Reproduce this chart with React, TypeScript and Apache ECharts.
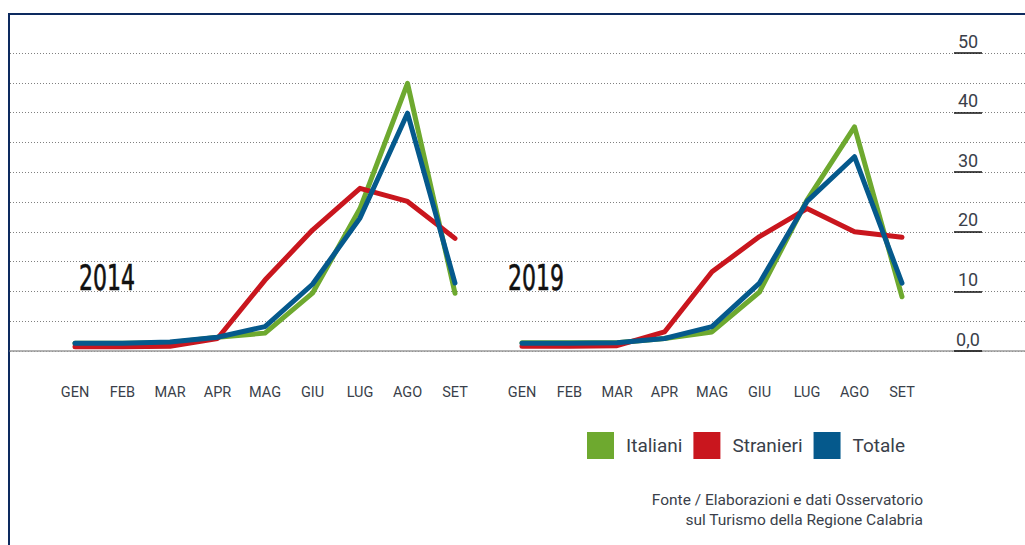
import React, { useEffect, useRef } from "react";
import * as echarts from "echarts";

const months = ["GEN", "FEB", "MAR", "APR", "MAG", "GIU", "LUG", "AGO", "SET"];
const yearLabels = ["2014", "2019"];
const seriesNames = ["Italiani", "Stranieri", "Totale"];
const seriesColors = ["#6ea92f", "#c9161e", "#05598c"];

const italiani2014 = [1.3, 1.3, 1.4, 2.3, 3.0, 9.7, 23.9, 44.9, 9.7];
const stranieri2014 = [0.7, 0.7, 0.8, 2.1, 11.9, 20.3, 27.3, 25.1, 18.9];
const totale2014 = [1.3, 1.3, 1.5, 2.3, 4.1, 11.2, 22.3, 39.9, 11.4];

const italiani2019 = [1.4, 1.4, 1.4, 2.1, 3.2, 9.9, 25.3, 37.6, 9.1];
const stranieri2019 = [0.8, 0.8, 0.9, 3.2, 13.3, 19.2, 23.9, 20.0, 19.1];
const totale2019 = [1.3, 1.3, 1.4, 2.1, 4.1, 11.4, 25.1, 32.6, 11.4];

const sourceLines = [
  "Fonte / Elaborazioni e dati Osservatorio",
  "sul Turismo della Regione Calabria",
];

const FONT = "Roboto, 'DejaVu Sans', sans-serif";

export default function App() {
  const ref = useRef<HTMLDivElement>(null);
  useEffect(() => {
    if (!ref.current) return;
    const chart = echarts.init(ref.current, null, { renderer: "svg" });
    const top = 53;
    const height = 298;
    const mkSeries = (idx: number, arrs: number[][]) =>
      arrs.map((d, i) => ({
        type: "line",
        name: seriesNames[i],
        xAxisIndex: idx,
        yAxisIndex: idx,
        data: d,
        symbol: "none",
        smooth: false,
        lineStyle: { width: 5, color: seriesColors[i], cap: "round", join: "round" },
        itemStyle: { color: seriesColors[i] },
        z: 5 + i,
      }));
    const catAxis = (gi: number) => ({
      type: "category",
      gridIndex: gi,
      data: months,
      boundaryGap: false,
      axisLine: { show: false },
      axisTick: { show: false },
      axisLabel: { margin: 34, fontSize: 14.5, color: "#3a3f4a", fontFamily: FONT },
    });
    const hiddenY = (gi: number) => ({
      type: "value",
      gridIndex: gi,
      min: 0,
      max: 50,
      show: false,
    });
    const option: any = {
      animation: false,
      backgroundColor: "#ffffff",
      grid: [
        { left: 10, right: 0, top, height },
        { left: 10, right: 43, top, height },
        { left: 75, width: 380, top, height },
        { left: 522, width: 380, top, height },
      ],
      xAxis: [
        {
          type: "value",
          gridIndex: 0,
          min: 0,
          max: 1,
          axisLine: { show: true, onZero: false, lineStyle: { color: "#9a9a9a", width: 1.5 } },
          axisTick: { show: false },
          axisLabel: { show: false },
          splitLine: { show: false },
        },
        { type: "value", gridIndex: 1, min: 0, max: 1, show: false },
        catAxis(2),
        catAxis(3),
      ],
      yAxis: [
        {
          type: "value",
          gridIndex: 0,
          min: 0,
          max: 50,
          interval: 5,
          axisLine: { show: false, onZero: false },
          axisTick: { show: false },
          axisLabel: { show: false },
          splitLine: { show: true, lineStyle: { color: "#808080", width: 1, type: [1, 2] } },
        },
        {
          type: "value",
          gridIndex: 1,
          position: "right",
          min: 0,
          max: 50,
          interval: 10,
          axisLine: { show: false, onZero: false },
          axisTick: { show: true, inside: true, length: 28, lineStyle: { color: "#111", width: 1.5 } },
          splitLine: { show: false },
          axisLabel: {
            inside: true,
            margin: 14,
            align: "center",
            verticalAlign: "bottom",
            padding: [0, 0, 3, 0],
            fontSize: 18,
            color: "#3a3f4a",
            fontFamily: FONT,
            formatter: (v: number) => (v === 0 ? "0,0" : String(v)),
          },
          z: 10,
        },
        hiddenY(2),
        hiddenY(3),
      ],
      legend: {
        data: seriesNames,
        icon: "rect",
        itemWidth: 27,
        itemHeight: 27,
        itemGap: 11,
        left: 587,
        top: 432,
        padding: 0,
        textStyle: { fontSize: 19, color: "#3a3f4a", fontFamily: FONT, padding: [0, 0, 0, 7] },
      },
      series: [
        ...mkSeries(2, [italiani2014, stranieri2014, totale2014]),
        ...mkSeries(3, [italiani2019, stranieri2019, totale2019]),
      ],
      graphic: [
        {
          type: "line",
          shape: { x1: 8, y1: 14, x2: 1025, y2: 14 },
          style: { stroke: "#0d2a5f", lineWidth: 2 },
        },
        {
          type: "line",
          shape: { x1: 9, y1: 13, x2: 9, y2: 545 },
          style: { stroke: "#0d2a5f", lineWidth: 2 },
        },
        ...yearLabels.map((t, i) => ({
          type: "text",
          x: i === 0 ? 79 : 508,
          y: 259,
          scaleX: 0.68,
          style: {
            text: t,
            fontSize: 36,
            fontFamily: "'DejaVu Sans Condensed', 'DejaVu Sans', sans-serif",
            fill: "#111",
            stroke: "#111",
            lineWidth: 0.6,
            textVerticalAlign: "top",
          },
          z: 20,
        })),
        ...sourceLines.map((t, i) => ({
          type: "text",
          x: 923,
          y: 500 + i * 20,
          style: {
            text: t,
            fontSize: 15.5,
            fontFamily: FONT,
            fill: "#3a3f4a",
            textAlign: "right",
            textVerticalAlign: "middle",
          },
        })),
      ],
    };
    chart.setOption(option);
    return () => chart.dispose();
  }, []);
  return (
    <div
      ref={ref}
      style={{ position: "fixed", left: 0, top: 0, width: 1025, height: 545 }}
    />
  );
}
